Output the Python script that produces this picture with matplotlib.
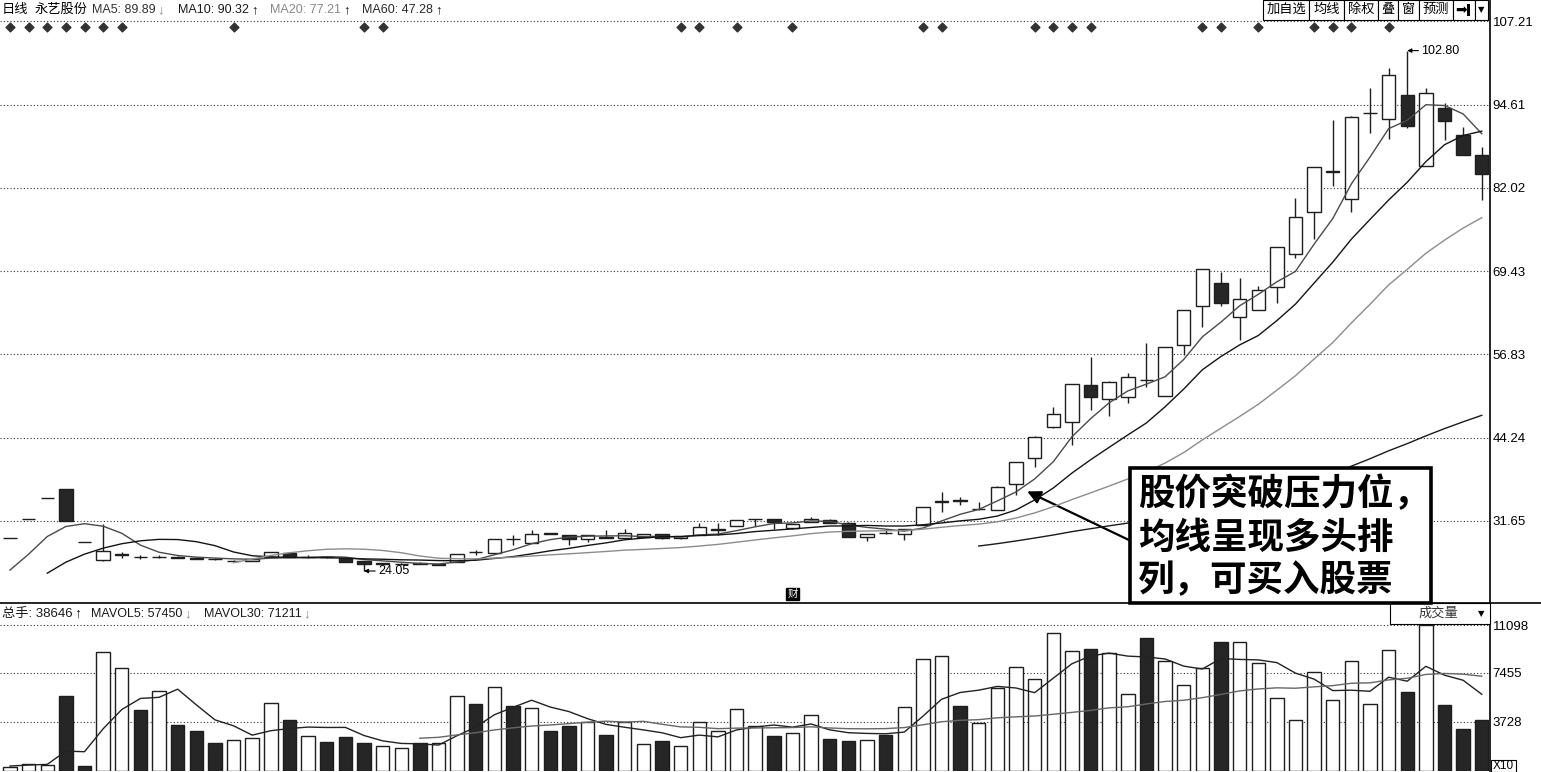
import matplotlib
matplotlib.use("Agg")
import matplotlib.pyplot as plt
import numpy as np
from matplotlib.lines import Line2D
from matplotlib.patches import Rectangle

plt.rcParams["font.family"] = ["Liberation Sans", "Noto Sans CJK SC", "DejaVu Sans"]

# ---- values (永艺股份, daily) ----
opens = [29.0, 31.9, 35.1, 36.4, 28.46, 25.7, 26.5, 26.2, 26.15, 26.2,
         26.05, 25.9, 25.5, 25.6, 26.2, 26.75, 26.1, 26.15, 26.0, 25.5,
         25.15, 25.05, 25.3, 25.0, 25.45, 26.95, 26.75, 28.95, 28.35, 29.8,
         29.5, 28.85, 29.2, 29.0, 29.15, 29.6, 29.0, 29.5, 30.3, 30.85,
         31.85, 31.9, 30.5, 31.5, 31.75, 31.35, 29.25, 29.8, 29.65, 31.0,
         34.5, 34.75, 33.45, 33.3, 37.2, 41.1, 45.8, 46.55, 52.2, 50.1,
         50.45, 52.95, 50.55, 58.25, 64.2, 67.6, 62.45, 63.55, 67.0, 72.0,
         78.45, 84.4, 80.3, 93.3, 92.4, 96.1, 85.4, 94.15, 90.05, 87.0]
highs = [29.0, 31.9, 35.1, 36.4, 28.46, 31.1, 26.9, 26.5, 26.4, 26.3,
         26.1, 25.95, 25.7, 25.9, 26.95, 26.8, 26.5, 26.2, 26.05, 25.6,
         25.3, 25.2, 25.35, 25.15, 26.65, 27.3, 28.9, 29.5, 30.3, 29.85,
         29.55, 29.55, 30.3, 30.4, 29.65, 29.65, 29.4, 31.35, 31.25, 31.8,
         31.95, 31.95, 31.15, 32.2, 31.85, 31.4, 29.7, 30.3, 30.4, 33.75,
         36.05, 35.3, 34.55, 36.85, 40.55, 44.45, 48.85, 52.4, 56.4, 52.8,
         54.0, 58.5, 57.95, 63.6, 69.75, 69.35, 68.45, 67.2, 73.1, 80.45,
         85.2, 92.3, 92.85, 97.1, 100.15, 102.8, 97.2, 94.85, 91.2, 88.25]
lows = [29.0, 31.9, 35.1, 31.6, 28.45, 25.6, 26.0, 25.9, 26.0, 25.95,
        25.8, 25.75, 25.45, 25.55, 26.15, 26.1, 26.05, 26.05, 25.4, 24.05,
        25.1, 25.0, 25.1, 24.95, 25.4, 26.5, 26.7, 28.0, 28.3, 29.65,
        28.0, 28.4, 29.05, 28.95, 29.1, 28.95, 28.95, 29.45, 29.5, 30.8,
        30.85, 30.35, 30.45, 31.45, 31.3, 29.2, 28.65, 29.7, 28.75, 30.95,
        33.05, 34.05, 33.3, 33.25, 35.55, 39.85, 45.75, 43.1, 48.4, 47.5,
        49.5, 51.95, 50.5, 56.7, 60.95, 64.2, 59.0, 63.5, 64.55, 71.35,
        74.25, 82.35, 78.35, 90.3, 89.45, 91.05, 85.35, 89.3, 86.95, 80.2]
closes = [29.0, 31.9, 35.1, 31.6, 28.45, 27.1, 26.55, 26.15, 26.2, 26.0,
          25.85, 25.85, 25.55, 25.85, 26.9, 26.15, 26.15, 26.1, 25.45, 25.05,
          25.2, 25.1, 25.15, 25.05, 26.6, 26.9, 28.85, 28.9, 29.65, 29.7,
          28.85, 29.5, 29.1, 29.75, 29.6, 29.0, 29.35, 30.65, 30.4, 31.75,
          31.9, 31.5, 31.1, 31.9, 31.35, 29.25, 29.65, 29.75, 30.35, 33.7,
          34.6, 34.7, 33.5, 36.8, 40.5, 44.4, 47.75, 52.35, 50.45, 52.6,
          53.35, 52.9, 57.9, 63.55, 69.7, 64.55, 65.2, 66.55, 73.05, 77.6,
          85.15, 84.55, 92.8, 93.35, 99.1, 91.45, 96.35, 92.2, 87.0, 84.1]
volumes = [302, 529, 454, 5670, 378, 9022, 7862, 4662, 6098, 3478,
           3074, 2142, 2394, 2545, 5166, 3906, 2696, 2243, 2570, 2092,
           1865, 1714, 2092, 2092, 5670, 5116, 6426, 4914, 4788, 3074,
           3402, 3730, 2722, 3704, 2066, 2318, 1865, 3704, 3024, 4712,
           3402, 2646, 2898, 4234, 2470, 2318, 2369, 2772, 4864, 8492,
           8770, 4964, 3654, 6300, 7878, 6998, 10468, 9135, 9286, 8959,
           5841, 10141, 8381, 6570, 7853, 9839, 9789, 8205, 5539, 3854,
           7551, 5438, 8355, 5111, 9211, 6042, 11097, 4986, 3175, 3865]
ma5 = [24.19, 26.60, 29.27, 30.79, 31.21, 30.83, 29.76, 27.97, 26.89, 26.40,
       26.15, 26.01, 25.89, 25.82, 26.00, 26.06, 26.12, 26.23, 26.15, 25.78,
       25.59, 25.38, 25.19, 25.11, 25.42, 25.76, 26.51, 27.26, 28.18, 28.80,
       29.19, 29.32, 29.36, 29.38, 29.27, 29.30, 29.20, 29.51, 29.64, 30.16,
       30.74, 31.24, 31.33, 31.63, 31.55, 31.02, 30.65, 30.39, 30.08, 30.55,
       31.62, 32.63, 33.37, 34.66, 36.02, 37.98, 40.59, 44.36, 47.09, 49.51,
       51.30, 52.33, 53.44, 56.06, 59.48, 61.72, 64.18, 65.91, 67.81, 69.39,
       73.51, 77.38, 82.63, 86.69, 90.99, 92.25, 94.61, 94.49, 93.22, 90.22]
ma10 = [None, None, 23.72, 25.39, 26.60, 27.51, 28.18, 28.62, 28.84, 28.81,
        28.49, 27.89, 26.93, 26.36, 26.20, 26.11, 26.07, 26.06, 25.99, 25.89,
        25.83, 25.75, 25.71, 25.63, 25.60, 25.68, 25.95, 26.23, 26.65, 27.11,
        27.48, 27.92, 28.31, 28.78, 29.04, 29.25, 29.26, 29.44, 29.51, 29.72,
        30.02, 30.22, 30.42, 30.64, 30.86, 30.88, 30.95, 30.86, 30.86, 31.05,
        31.32, 31.64, 31.88, 32.37, 33.29, 34.80, 36.61, 38.87, 40.88, 42.77,
        44.64, 46.46, 48.90, 51.58, 54.50, 56.51, 58.26, 59.68, 61.94, 64.44,
        67.62, 70.78, 74.27, 77.25, 80.19, 82.88, 86.00, 88.56, 89.96, 90.61]
ma20 = [None] * 12 + [
        25.32, 25.87, 26.40, 26.81, 27.12, 27.34, 27.41, 27.35,
        27.16, 26.82, 26.32, 25.99, 25.90, 25.89, 26.01, 26.14, 26.32, 26.50,
        26.65, 26.83, 27.01, 27.21, 27.32, 27.46, 27.60, 27.83, 28.08, 28.41,
        28.75, 29.07, 29.37, 29.71, 29.95, 30.06, 30.10, 30.15, 30.18, 30.38,
        30.67, 30.93, 31.15, 31.50, 32.07, 32.84, 33.78, 34.86, 35.87, 36.91,
        37.98, 39.05, 40.39, 41.97, 43.89, 45.66, 47.43, 49.27, 51.41, 53.60,
        56.13, 58.62, 61.59, 64.41, 67.34, 69.70, 72.13, 74.12, 75.95, 77.52]
ma60 = [None] * 52 + [
        27.83, 28.19, 28.60, 29.04, 29.50, 30.01, 30.45, 30.89,
        31.30, 31.65, 32.03, 32.56, 33.25, 33.87, 34.51, 35.19, 35.97, 36.83,
        37.82, 38.79, 39.92, 41.04, 42.24, 43.33, 44.50, 45.60, 46.63, 47.61]
mavol5 = [377, 453, 504, 1512, 1467, 3211, 4677, 5519, 5604, 6224,
          5035, 3891, 3437, 2727, 3064, 3231, 3341, 3311, 3316, 2701,
          2293, 2097, 2067, 1971, 2687, 3337, 4279, 4844, 5383, 4864,
          4521, 3982, 3543, 3326, 3125, 2908, 2535, 2731, 2595, 3125,
          3341, 3498, 3336, 3578, 3130, 2913, 2858, 2833, 2959, 4163,
          5453, 5972, 6149, 6436, 6313, 5959, 7060, 8156, 8753, 8969,
          8738, 8672, 8522, 7978, 7757, 8557, 8486, 8451, 8245, 7445,
          6988, 6117, 6147, 6062, 7133, 6831, 7963, 7289, 6902, 5833]
mavol30 = [None] * 22 + [
           2494, 2562, 2747, 2914, 3123, 3280, 3419, 3501,
           3604, 3711, 3787, 3721, 3778, 3554, 3354, 3322, 3220, 3261,
           3272, 3289, 3305, 3362, 3272, 3219, 3208, 3226, 3302, 3515,
           3746, 3854, 3906, 4046, 4120, 4183, 4317, 4458, 4608, 4804,
           4885, 5099, 5288, 5383, 5576, 5827, 6091, 6241, 6325, 6296,
           6401, 6494, 6676, 6705, 6930, 7054, 7345, 7419, 7363, 7209]
mine_days = [0, 1, 2, 3, 4, 5, 6, 12, 19, 20, 36, 37, 39, 42, 49, 50,
             55, 56, 57, 58, 64, 65, 67, 70, 71, 72, 74]
fin_day = 42
price_ticks = [31.65, 44.24, 56.83, 69.43, 82.02, 94.61, 107.21]
vol_ticks = [3728, 7455, 11098]
ma_labels = ["MA5: 89.89", "MA10: 90.32", "MA20: 77.21", "MA60: 47.28"]
ma_trend = ["down", "up", "up", "up"]
vol_labels = ["总手: 38646", "MAVOL5: 57450", "MAVOL30: 71211"]
vol_trend = ["up", "down", "down"]
buttons = ["加自选", "均线", "除权", "叠", "窗", "预测"]
note = ["股价突破压力位，", "均线呈现多头排", "列，可买入股票"]

# ---- layout (pixels) ----
W, H = 1541, 772
STEP = 18.63          # px per trading day
AXIS_X = 1490
SPLIT_Y = 603


def fx(x):
    return x / W


def fy(y):
    return 1 - y / H


fig = plt.figure(figsize=(W / 100, H / 100), dpi=100)
ax = fig.add_axes([0, fy(SPLIT_Y), fx(AXIS_X), SPLIT_Y / H])
axv = fig.add_axes([0, fy(771), fx(AXIS_X), (771 - SPLIT_Y) / H])
renderer = fig.canvas.get_renderer()

idx = np.arange(len(closes))
o = np.array(opens)
c = np.array(closes)
up = c >= o
ink = "#1e1e1e"
dark = "#262626"
dots = (0, (1, 2))

for a in (ax, axv):
    a.set_xlim(-10 / STEP, (AXIS_X - 10) / STEP)
    a.set_xticks([])
    for s in ("top", "left", "bottom"):
        a.spines[s].set_visible(False)
    a.spines["right"].set_linewidth(1.2)
    a.yaxis.tick_right()
    a.tick_params(axis="y", length=0, pad=2, labelsize=9.5, colors="black")

# price panel
ax.set_ylim(19.21, 110.46)
ax.set_yticks(price_ticks)
ax.set_yticklabels([f"{v:.2f}" for v in price_ticks])
for v in price_ticks:
    ax.axhline(v, color="#333333", lw=0.8, ls=dots, zorder=0.5)

ax.vlines(idx, lows, highs, color=ink, lw=1, zorder=2)
ax.bar(idx, np.abs(c - o), bottom=np.minimum(o, c), width=0.72,
       color=np.where(up, "white", dark), edgecolor=ink, lw=1, zorder=3)

ma_styles = [("#4a4a4a", ma5), ("#141414", ma10), ("#8c8c8c", ma20), ("#1a1a1a", ma60)]
for col, vals in ma_styles:
    ax.plot(idx, np.array(vals, dtype=float), color=col, lw=1.0, zorder=4)

# info-mine diamonds and the 财 flag
ax.scatter(mine_days, [1 - 27 / SPLIT_Y] * len(mine_days), marker="D", s=20,
           color="#333333", transform=ax.get_xaxis_transform(), zorder=5,
           clip_on=False)
ax.text(fin_day, 9 / SPLIT_Y, "财", transform=ax.get_xaxis_transform(),
        ha="center", va="center", fontsize=7.5, color="white",
        family=["Noto Sans CJK SC"],
        bbox=dict(boxstyle="square,pad=0.12", fc="black", ec="black"))

# high / low markers
hi = int(np.argmax(highs))
lo = int(np.argmin(lows))
for i, val in ((hi, highs[hi]), (lo, lows[lo])):
    ax.annotate(f"{val:.2f}", xy=(i, val), xytext=(14, 0),
                textcoords="offset pixels", ha="left", va="center",
                fontsize=9, zorder=6,
                arrowprops=dict(arrowstyle="-|>", color="black", lw=0.8,
                                mutation_scale=6, shrinkA=0, shrinkB=0))

# volume panel
axv.set_ylim(0, (771 - SPLIT_Y) * 3727 / 49)
axv.set_yticks(vol_ticks)
axv.set_yticklabels([str(v) for v in vol_ticks])
for v in vol_ticks:
    axv.axhline(v, color="#333333", lw=0.8, ls=dots, zorder=0.5)
axv.bar(idx, volumes, width=0.72, color=np.where(up, "white", dark),
        edgecolor=ink, lw=1, zorder=3)
axv.plot(idx, mavol5, color="#222222", lw=1.0, zorder=4)
axv.plot(idx, np.array(mavol30, dtype=float), color="#666666", lw=1.0, zorder=4)

# panel divider across the whole width
fig.add_artist(Line2D([0, 1], [fy(SPLIT_Y)] * 2, color="black", lw=1.2,
                      transform=fig.transFigure))


def label_with_arrow(x, y, text, trend, color, size):
    t = fig.text(fx(x), fy(y), text, fontsize=size, va="center", color=color)
    end = t.get_window_extent(renderer).x1
    fig.text((end + 2) / W, fy(y), "↓" if trend == "down" else "↑",
             fontsize=size + 0.5, va="center", fontweight="bold",
             color="#8a8a8a" if trend == "down" else "#111111")


# ---- header texts ----
fig.text(fx(2), fy(10), "日线", fontsize=9.5, va="center")
fig.text(fx(35), fy(10), "永艺股份", fontsize=9.5, va="center")
ma_x = [92, 178, 270, 362]
ma_col = ["#333333", "#1a1a1a", "#888888", "#2a2a2a"]
for lab, tr, x, col in zip(ma_labels, ma_trend, ma_x, ma_col):
    label_with_arrow(x, 10, lab, tr, col, 9)

for lab, tr, x in zip(vol_labels, vol_trend, [2, 91, 204]):
    label_with_arrow(x, 614, lab, tr, "#1a1a1a", 9.5 if x == 2 else 9)

# toolbar buttons at top right
edges = [1263, 1309, 1344, 1378, 1398, 1419, 1453, 1475, 1488]
for k, (x0, x1) in enumerate(zip(edges[:-1], edges[1:])):
    fig.add_artist(Rectangle((fx(x0), fy(20)), (x1 - x0) / W, 20 / H,
                             transform=fig.transFigure, fc="white",
                             ec="black", lw=0.8, zorder=3))
    cx = fx((x0 + x1) / 2)
    if k < len(buttons):
        fig.text(cx, fy(10), buttons[k], fontsize=9.5, ha="center",
                 va="center", zorder=4)
    elif k == len(buttons):
        fig.text(cx - 3 / W, fy(10), "➡", fontsize=10, ha="center",
                 va="center", family=["DejaVu Sans"], zorder=4)
        fig.add_artist(Rectangle((fx(x1 - 8), fy(16)), 3 / W, 12 / H,
                                 transform=fig.transFigure, fc="black",
                                 ec="none", zorder=4))
    else:
        fig.text(cx, fy(10), "▼", fontsize=6, ha="center", va="center",
                 family=["DejaVu Sans"], zorder=4)

# 成交量 dropdown
fig.add_artist(Rectangle((fx(1390), fy(624)), 100 / W, 21 / H,
                         transform=fig.transFigure, fc="white", ec="black",
                         lw=0.8, zorder=3))
fig.text(fx(1419), fy(614), "成交量", fontsize=9.5, va="center", zorder=4,
         color="#333333")
fig.text(fx(1481), fy(614), "▼", fontsize=6, ha="center", va="center",
         family=["DejaVu Sans"], zorder=4)

# X10 marker
fig.add_artist(Rectangle((fx(1491), fy(772)), 25 / W, 12 / H,
                         transform=fig.transFigure, fc="white", ec="black",
                         lw=0.8, zorder=3))
fig.text(fx(1493), fy(766), "X10", fontsize=8.5, va="center", zorder=4)

# ---- annotation box with arrow ----
fig.add_artist(Rectangle((fx(1130), fy(603)), 301 / W, 135 / H,
                         transform=fig.transFigure, fc="white", ec="black",
                         lw=2.6, zorder=5))
for line, y in zip(note, [495, 538, 581]):
    fig.text(fx(1138), fy(y), line, fontsize=26.3, fontweight="bold",
             family=["Noto Sans CJK SC"], va="center", ha="left", zorder=6)
ax.annotate("", xy=(54.6, 36.1), xytext=(1131, H - 541),
            textcoords="figure pixels", annotation_clip=False,
            arrowprops=dict(arrowstyle="-|>", color="black", lw=1.6,
                            mutation_scale=20, shrinkA=0, shrinkB=0))

fig.savefig("out.png", dpi=100, facecolor="white")
